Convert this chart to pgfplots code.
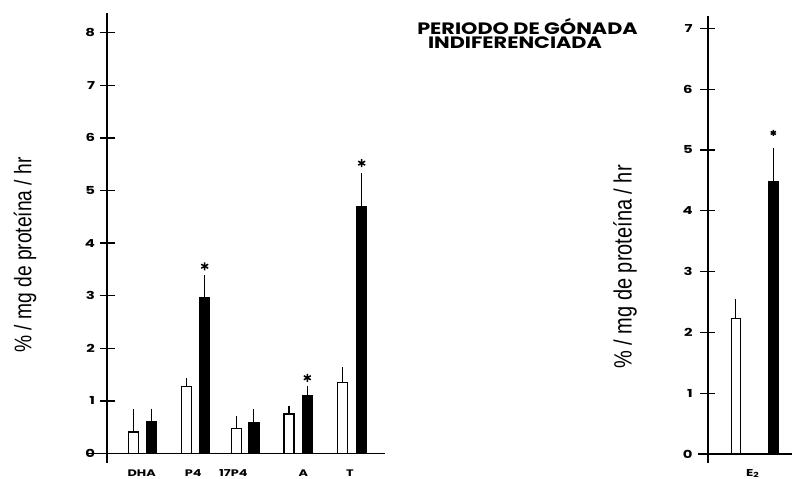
\documentclass[border=0pt]{standalone}
\usepackage{pgfplots}
\pgfplotsset{compat=1.18}
\usepackage{fontspec}
\setmainfont{Liberation Sans}
\newfontfamily\tickfont[FakeStretch=1.35]{Poppins}
\newfontfamily\titlefont[FakeStretch=1.26]{Poppins}
\newfontfamily\labfont[FakeStretch=0.8]{Liberation Sans}
\pgfplotsset{
  panel/.style={
    scale only axis, anchor=south west,
    axis lines=middle,
    axis line style={-, line width=1.6pt},
    tick align=center, major tick length=15pt,
    y tick style={line width=1.3pt, black},
    x tick style={draw=none},
    hide obscured x ticks=false, hide obscured y ticks=false,
    tick label style={font=\tickfont\bfseries\fontsize{11}{12}\selectfont},
    /pgf/number format/assume math mode=true,
    clip=false,
  },
  errs/.style={
    error bars/y dir=plus, error bars/y explicit, error bars/error mark=-,
    error bars/error bar style={line width=1.2pt, black},
    error bars/error mark options={mark size=3pt, line width=1.2pt, black}},
  wbar/.style={ybar, bar shift=0pt, fill=white, draw=black, line width=1.4pt, errs},
  bbar/.style={ybar, bar shift=0pt, fill=black, draw=black, line width=1.4pt, errs},
  star/.style={only marks, mark=asterisk, mark size=4pt, line width=1.5pt, black},
}
\begin{document}
\begin{tikzpicture}[x=1pt,y=1pt]
\useasboundingbox (0,0) rectangle (793,479);
% left panel
\begin{axis}[panel, at={(88pt,16.03pt)}, width=297pt, height=449.7pt,
  xmin=-19, xmax=278, ymin=-0.18, ymax=8.37,
  ytick={0,1,2,3,4,5,6,7,8},
  xtick={34.7,86.3,126.3,196.3,243},
  xticklabels={DHA,P4,17P4,A,T},
  xticklabel style={font=\tickfont\bfseries\fontsize{9.5}{10}\selectfont, yshift=-5pt},
  yticklabel style={xshift=-1pt},
]
\addplot[wbar, bar width=10] coordinates {
  (26.6,0.41) +- (0,0.37)
  (79.7,1.27) +- (0,0.11)
  (129.3,0.48) +- (0,0.17)
  (182,0.75) +- (0,0.10)
  (235.7,1.35) +- (0,0.24)
};
\addplot[bbar, bar width=10] coordinates {
  (44.7,0.60) +- (0,0.19)
  (97.7,2.96) +- (0,0.37)
  (146.8,0.59) +- (0,0.20)
  (200.3,1.09) +- (0,0.13)
  (254.7,4.69) +- (0,0.59)
};
\addplot[star] coordinates {(97.7,3.56) (200.3,1.44) (254.7,5.52)};
\node[rotate=90, font=\labfont\fontsize{24}{28}\selectfont] at (axis description cs:-0.212,0.4625) {\% / mg de proteína / hr};
\end{axis}
% right panel
\begin{axis}[panel, at={(697.7pt,15.9pt)}, width=94.3pt, height=446.9pt,
  xmin=-10, xmax=84.3, ymin=-0.15, ymax=7.2,
  ytick={0,1,2,3,4,5,6,7},
  xtick={45}, xticklabels={E\textsubscript{2}},
  xticklabel style={font=\tickfont\bfseries\fontsize{10}{10}\selectfont, yshift=-4pt},
  yticklabel style={xshift=-4pt},
]
\addplot[wbar, bar width=9] coordinates {(28.1,2.23) +- (0,0.27)};
\addplot[bbar, bar width=10] coordinates {(65.6,4.48) +- (0,0.50)};
\addplot[star, mark size=3pt] coordinates {(65.6,5.28)};
\node[rotate=90, font=\labfont\fontsize{25}{29}\selectfont] at (axis description cs:-0.771,0.439) {\% / mg de proteína / hr};
\end{axis}
\node[anchor=south, inner sep=0pt, align=center, font=\titlefont\bfseries\fontsize{16.5}{14.2}\selectfont] at (527.5,430) {PERIODO DE GÓNADA\\INDIFERENCIADA\hspace*{25pt}};
\end{tikzpicture}
\end{document}
